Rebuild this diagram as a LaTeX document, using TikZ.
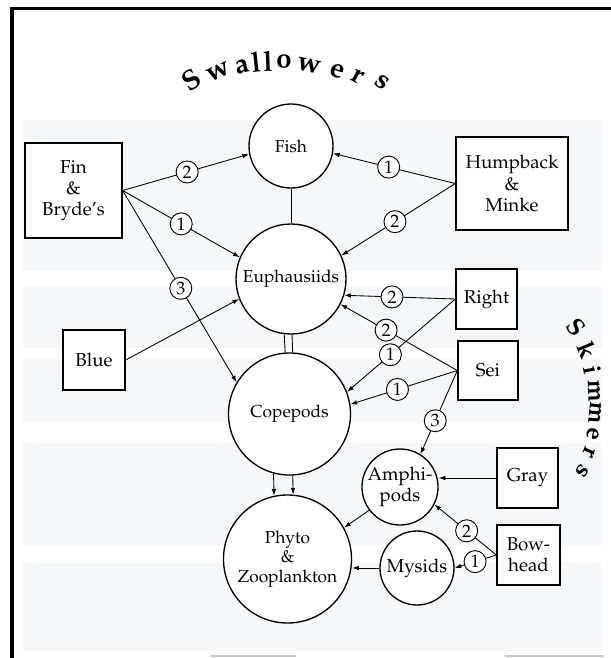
\documentclass[tikz,border=0pt]{standalone}
\usepackage[T1]{fontenc}
\renewcommand{\rmdefault}{ppl}
\usetikzlibrary{arrows.meta}
\newcommand{\bxfont}{\fontsize{14}{16}\selectfont}
\newcommand{\crfont}{\fontsize{13}{14.5}\selectfont}
\newcommand{\lbfont}{\fontsize{13.5}{14}\selectfont}
\newcommand{\ttlfont}{\fontsize{21}{23}\bfseries\selectfont}
\newcommand{\skfont}{\fontsize{18.5}{20}\bfseries\selectfont}
\definecolor{wmark}{RGB}{244,248,251}
\begin{document}
\begin{tikzpicture}[x=0.75pt,y=-0.75pt,
  box/.style={draw,line width=1pt,inner sep=0pt,align=center,font=\bxfont,fill=white},
  circ/.style={draw,circle,line width=1pt,inner sep=0pt,align=center,font=\crfont,fill=white},
  lab/.style={draw,circle,fill=white,line width=0.7pt,inner sep=0pt,minimum size=16.5pt,font=\lbfont},
  conn/.style={line width=0.65pt},
  arr/.style={conn,-{Latex[length=5pt,width=3.4pt]}},
  ttl/.style={font=\ttlfont,inner sep=0pt},
  skt/.style={font=\skfont,inner sep=0pt},
  band/.style={fill=wmark,draw=none}]
\useasboundingbox (0,0) rectangle (611,658);
% faint background bands
\fill[band] (23,120) rectangle (602,271);
\fill[band] (23,287) rectangle (602,348);
\fill[band] (23,359) rectangle (602,422);
\fill[band] (23,443) rectangle (602,545);
\fill[band] (23,563) rectangle (602,651);
% frame
\draw[line width=2.6pt] (12,7) -- (12,658);
\draw[line width=1.6pt] (11,8.5) -- (611,8.5);
\draw[gray!45,line width=1.2pt] (210,656) -- (296,656);
\draw[gray!45,line width=1.2pt] (505,656) -- (604,656);
% titles
\foreach \c/\px/\py/\r [count=\i] in {S/191/80/33,w/218/72/24,a/242/66/13,l/256/62/6,l/268/61/2,o/284/61/-3,w/309/65/-12,e/337/71/-21,r/357/76/-29,s/382/82/-38}
  \node[ttl,rotate=\r] (sw\i) at (\px,\py) {\c};
\foreach \c/\px/\py/\r [count=\i] in {S/576/327/-52,k/587/350/-68,i/592/370/-80,m/594/391/-88,m/595/413/-96,e/593/434/-104,r/589/452/-114,s/582/471/-128}
  \node[skt,rotate=\r] (sk\i) at (\px,\py) {\c};
% boxes
\node[box,minimum width=72.75pt,minimum height=71.25pt] (fin) at (73.5,190.5) {Fin\\\&\\Bryde's};
\node[box,minimum width=84pt,minimum height=69.75pt] (hump) at (512,183.5) {Humpback\\\&\\Minke};
\node[box,minimum width=46.5pt,minimum height=45pt] (blue) at (94,360) {Blue};
\node[box,minimum width=45.75pt,minimum height=45pt] (right) at (486.5,299) {Right};
\node[box,minimum width=45pt,minimum height=44.25pt] (sei) at (488,370.5) {Sei};
\node[box,minimum width=45.75pt,minimum height=45pt] (gray) at (527.5,478) {Gray};
\node[box,minimum width=47.25pt,minimum height=45pt] (bow) at (528.5,555) {Bow-\\head};
% circles
\node[circ,minimum size=63pt] (fish) at (291,146) {Fish};
\node[circ,minimum size=82.5pt] (euph) at (291,279) {Euphausiids};
\node[circ,minimum size=91.5pt] (cope) at (289.5,414) {Copepods};
\node[circ,minimum size=96pt] (phyto) at (287.5,559) {Phyto\\\&\\Zooplankton};
\node[circ,minimum size=55.5pt,font=\bxfont] (amph) at (400,487) {Amphi-\\pods};
\node[circ,minimum size=55.5pt,font=\bxfont] (mys) at (417,568) {Mysids};
% connectors
\draw[arr] (fin.east) -- node[lab,pos=0.51] (l1) {2} (fish.191);
\draw[arr] (fin.east) -- node[lab,pos=0.50] (l2) {1} (euph.157.5);
\draw[arr] (fin.east) -- node[lab,pos=0.51] (l3) {3} (cope.149);
\draw[arr] (blue.east) -- (euph.201.6);
\draw[arr] (hump.west) -- node[lab,pos=0.545] (l4) {1} (fish.350);
\draw[arr] (hump.west) -- node[lab,pos=0.53] (l5) {2} (euph.25.2);
\draw[conn] (fish.south) -- (euph.north);
\draw[conn] (euph.263.7) -- (cope.94.2);
\draw[conn] (euph.271) -- (cope.87.7);
\draw[arr] (right.west) -- node[lab,pos=0.57] (l6) {2} (euph.343);
\draw[arr] (right.west) -- node[lab,pos=0.60] (l7) {1} (cope.21.6);
\draw[arr] (sei.west) -- node[lab,pos=0.61] (l8) {2} (euph.333);
\draw[arr] (sei.west) -- node[lab,pos=0.56] (l9) {1} (cope.9);
\draw[arr] (sei.west) -- node[lab,pos=0.60] (l10) {3} (amph.58);
\draw[arr] (gray.west) -- (gray.west -| amph.east);
\draw[arr] (bow.west) -- node[lab,pos=0.48] (l11) {2} (amph.333);
\draw[arr] (bow.west) -- node[lab,pos=0.51] (l12) {1} (mys.east);
\draw[arr] (amph.217.5) -- (phyto.29.3);
\draw[arr] (mys.west) -- (mys.west -| phyto.east);
\draw[arr] (cope.255.3) -- (phyto.102.2);
\draw[arr] (cope.273.3) -- (phyto.85.1);
\end{tikzpicture}
\end{document}
